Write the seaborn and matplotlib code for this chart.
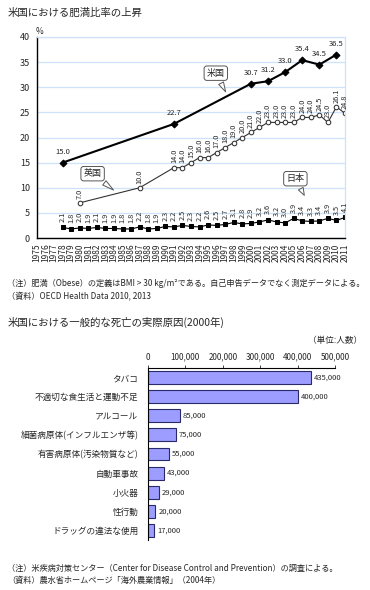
import matplotlib
matplotlib.use("Agg")
import matplotlib.pyplot as plt
import seaborn as sns
import pandas as pd

# obesity rate (%)
years = list(range(1975, 2012))
us_years = [1978, 1991, 2000, 2002, 2004, 2006, 2008, 2010]
us_rate = [15.0, 22.7, 30.7, 31.2, 33.0, 35.4, 34.5, 36.5]
uk_years = [1980, 1987] + list(range(1991, 2012))
uk_rate = [7.0, 10.0, 14.0, 14.0, 15.0, 16.0, 16.0, 17.0, 18.0, 19.0, 20.0, 21.0,
           22.0, 23.0, 23.0, 23.0, 23.0, 24.0, 24.0, 24.5, 23.0, 26.1, 24.8]
jp_years = list(range(1978, 2012))
jp_rate = [2.1, 1.8, 2.0, 1.9, 2.1, 1.9, 1.9, 1.8, 1.8, 2.2, 1.8, 1.9,
           2.3, 2.2, 2.5, 2.3, 2.2, 2.6, 2.5, 2.7, 3.1, 2.8,
           2.9, 3.2, 3.6, 3.2, 3.0, 3.9, 3.4, 3.3, 3.4, 3.9, 3.5, 4.1]

# causes of death in the US, 2000
causes = ["タバコ", "不適切な食生活と運動不足", "アルコール", "細菌病原体(インフルエンザ等)",
          "有害病原体(汚染物質など)", "自動車事故", "小火器", "性行動", "ドラッグの違法な使用"]
deaths = [435000, 400000, 85000, 75000, 55000, 43000, 29000, 20000, 17000]

sns.set_style("white")
plt.rcParams['font.family'] = ['Noto Sans CJK JP', 'DejaVu Sans']

W, H = 370, 590
fig = plt.figure(figsize=(W / 100, H / 100), dpi=100)


def box(l, t, r, b):
    return [l / W, 1 - b / H, (r - l) / W, (b - t) / H]


def ftext(x, y, s, **kw):
    fig.text(x / W, 1 - y / H, s, **kw)


grid_c = "#cfe2fb"

# ---- line chart ----
ax = fig.add_axes(box(37, 37, 345, 238))
sns.lineplot(x=us_years, y=us_rate, ax=ax, color="black", lw=1.5, marker="D",
             markersize=3.5, markeredgecolor="black")
sns.lineplot(x=uk_years, y=uk_rate, ax=ax, color="#333333", lw=0.8, marker="o",
             markersize=3.3, markerfacecolor="white", markeredgecolor="#333333")
sns.lineplot(x=jp_years, y=jp_rate, ax=ax, color="black", lw=0.8, marker="s",
             markersize=3.3, markeredgecolor="black")

ax.set_xlim(1975, 2011)
ax.set_ylim(0, 40)
ax.set_yticks(range(0, 41, 5))
ax.set_xticks(years)
ax.set_xticklabels([str(y) for y in years], rotation=90, fontsize=6)
ax.set_xticks(range(1980, 2011, 5), minor=True)
ax.tick_params(axis='x', which='major', length=2, pad=2, width=0.6)
ax.tick_params(axis='x', which='minor', length=0)
ax.tick_params(axis='y', length=3, pad=2, labelsize=6.5, width=0.8)
ax.grid(False)
ax.xaxis.grid(True, which='minor', color=grid_c, lw=0.9)
ax.yaxis.grid(True, which='major', color=grid_c, lw=0.9)
ax.set_axisbelow(True)
for s in ['left', 'bottom']:
    ax.spines[s].set_color("black")
    ax.spines[s].set_linewidth(1.0)
for s in ['top', 'right']:
    ax.spines[s].set_color(grid_c)
    ax.spines[s].set_linewidth(0.9)
ax.set_xlabel("")
ax.set_ylabel("")

for x, y in zip(us_years, us_rate):
    ax.annotate(f"{y:.1f}", (x, y), xytext=(0, 5), textcoords="offset points",
                ha="center", va="bottom", fontsize=5.5)
for x, y in zip(uk_years, uk_rate):
    ax.annotate(f"{y:.1f}", (x, y), xytext=(0, 3), textcoords="offset points",
                ha="center", va="bottom", rotation=90, fontsize=5.3)
for x, y in zip(jp_years, jp_rate):
    ax.annotate(f"{y:.1f}", (x, y), xytext=(0, 4), textcoords="offset points",
                ha="center", va="bottom", rotation=90, fontsize=5.3)

callout = dict(boxstyle="round,pad=0.3", fc="white", ec="#555555", lw=0.7)
arrow = dict(arrowstyle="wedge,tail_width=0.6", fc="white", ec="#555555", lw=0.7)
ax.annotate("米国", (1997.2, 28.6), xytext=(1995.9, 32.8), fontsize=6.5,
            ha="center", va="center", bbox=callout, arrowprops=arrow)
ax.annotate("英国", (1984.2, 9.2), xytext=(1981.5, 12.8), fontsize=6.5,
            ha="center", va="center", bbox=callout, arrowprops=arrow)
ax.annotate("日本", (2006.4, 8.0), xytext=(2005.2, 11.8), fontsize=6.5,
            ha="center", va="center", bbox=callout, arrowprops=arrow)

ftext(8, 13, "米国における肥満比率の上昇", fontsize=7.5, va="center")
ftext(36, 31, "%", fontsize=6, va="center")
ftext(7, 283, "（注）肥満（Obese）の定義はBMI > 30 kg/m²である。自己申告データでなく測定データによる。",
      fontsize=5.9, va="center")
ftext(7, 297, "（資料）OECD Health Data 2010, 2013", fontsize=5.9, va="center")

# ---- bar chart ----
ftext(8, 322, "米国における一般的な死亡の実際原因(2000年)", fontsize=7.5, va="center")
ftext(362, 340, "（単位:人数）", fontsize=6.2, va="center", ha="right")

df = pd.DataFrame({"cause": causes, "deaths": deaths})
bx = fig.add_axes(box(148, 368, 335, 540))
sns.barplot(data=df, x="deaths", y="cause", orient="h", ax=bx, color="#9d9dff",
            edgecolor="#2a2a6a", linewidth=0.8, width=0.68, saturation=1)
bx.set_xlim(0, 500000)
bx.set_xticks(range(0, 500001, 100000))
bx.set_xticklabels([f"{v:,}" for v in range(0, 500001, 100000)], fontsize=5.8)
bx.xaxis.tick_top()
bx.tick_params(axis='x', length=2, pad=2.5, width=0.6)
bx.tick_params(axis='y', length=0, pad=7, labelsize=6.2)
bx.set_xlabel("")
bx.set_ylabel("")
for s in ['right', 'bottom']:
    bx.spines[s].set_visible(False)
for s in ['left', 'top']:
    bx.spines[s].set_color("black")
    bx.spines[s].set_linewidth(0.8)
for i, v in enumerate(deaths):
    bx.annotate(f"{v:,}", (v, i), xytext=(2, 0), textcoords="offset points",
                ha="left", va="center", fontsize=5.5)

ftext(7, 568, "（注）米疾病対策センター（Center for Disease Control and Prevention）の調査による。",
      fontsize=5.9, va="center")
ftext(7, 580, "（資料）農水省ホームページ「海外農業情報」（2004年）", fontsize=5.9, va="center")

fig.savefig("out.png", dpi=100)
